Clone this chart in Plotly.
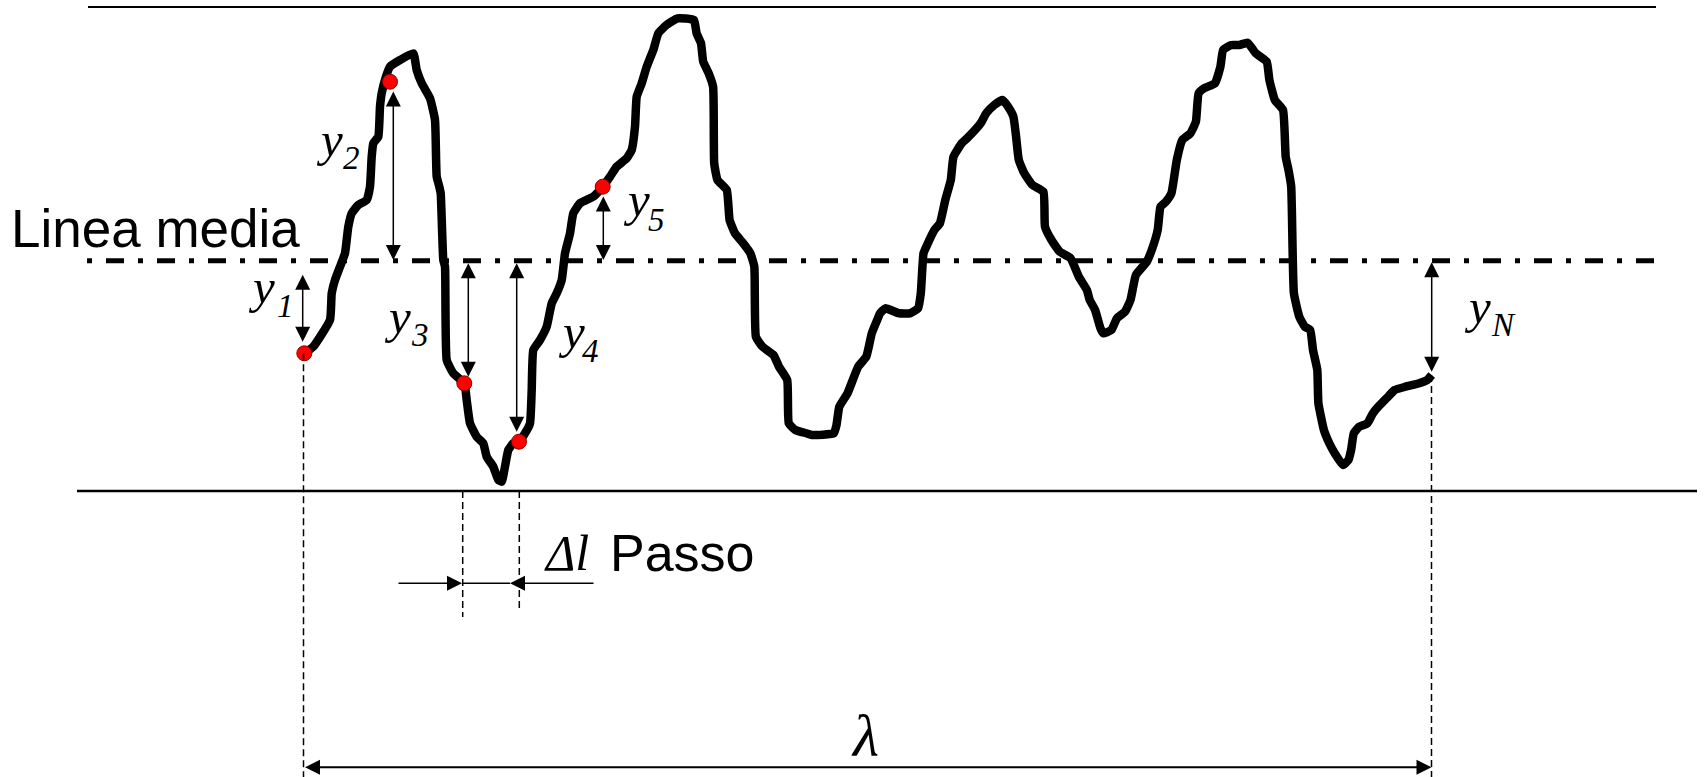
import plotly.graph_objects as go

W, H = 1704, 777

# Roughness profile (pixel coordinates)
profile_x = [304.3, 313.3, 330.0, 331.7, 335.0, 340.0, 345.0, 348.3, 351.7, 358.3, 366.7, 370.0,
             371.7, 373.3, 378.3, 380.0, 381.7, 386.0, 390.0, 400.0, 413.3, 416.7, 421.7, 430.0,
             435.0, 436.7, 439.3, 440.7, 443.3, 445.0, 446.7, 453.3, 464.3, 466.7, 470.0, 476.7,
             483.3, 486.7, 493.3, 498.3, 501.7, 505.0, 508.3, 513.3, 519.0, 525.0, 530.0, 531.7,
             533.3, 540.0, 546.7, 551.7, 556.7, 561.7, 565.0, 570.0, 573.3, 580.0, 593.3, 602.7,
             610.0, 616.7, 626.7, 631.7, 635.0, 636.7, 641.7, 646.7, 650.0, 653.3,
             658.3, 666.5, 677.5, 693.9, 696.6, 701.0, 703.2, 708.7, 713.1, 714.2, 717.5, 726.8,
             729.6, 735.0, 743.3, 750.4, 754.3, 755.9, 762.5, 773.5, 779.0, 787.2, 788.8, 795.4,
             806.4, 811.9, 833.8, 836.5, 839.3, 847.5,
             858.2, 866.3, 871.8, 877.2, 880.0, 885.4, 899.0, 909.9, 918.1, 920.8, 923.5, 926.3,
             934.4, 939.9, 945.3, 950.8, 953.5, 961.7, 967.1, 980.7, 986.2, 994.3, 1002.5, 1008.0,
             1013.4, 1016.1, 1018.8, 1024.3, 1032.5, 1043.4, 1045.0, 1051.5, 1059.7, 1070.6, 1078.8,
             1086.9, 1089.7, 1095.1, 1100.5, 1103.3, 1111.4, 1116.9, 1125.0, 1130.5, 1135.9, 1146.8,
             1152.3, 1157.7, 1160.5, 1165.9, 1171.4, 1176.8, 1182.3, 1190.4, 1195.9, 1198.6, 1204.1,
             1214.9, 1220.4, 1223.1, 1231.3, 1239.4, 1247.6, 1255.8, 1266.7, 1269.4, 1274.8, 1283.0,
             1285.7, 1288.5, 1291.2, 1293.9, 1299.3, 1304.8, 1310.2, 1313.0, 1317.3, 1318.4, 1323.9,
             1329.3, 1334.7, 1342.9, 1348.4, 1351.1, 1353.8, 1359.3, 1367.4, 1372.9, 1378.3, 1386.5,
             1394.7, 1405.6, 1419.2, 1427.3, 1431.7]
profile_y = [353.3, 346.7, 320.0, 293.3, 280.0, 266.7, 253.3, 226.7, 213.3, 205.0, 200.0, 186.7,
             156.7, 143.3, 136.7, 106.7, 93.3, 76.7, 66.7, 60.0, 53.3, 70.0, 83.3, 98.3,
             120.0, 176.7, 186.7, 193.3, 260.0, 266.7, 360.0, 373.3, 383.3, 400.0, 423.3, 436.7,
             443.3, 456.7, 466.7, 480.0, 481.7, 466.7, 450.0, 443.3, 441.7, 433.3, 423.3, 390.0,
             350.0, 340.0, 326.7, 303.3, 293.3, 280.0, 253.3, 233.3, 213.3, 203.3, 196.7, 186.7,
             176.7, 166.7, 158.3, 150.0, 126.7, 96.7, 83.3, 66.7, 58.3, 50.0,
             33.3, 25.0, 18.3, 20.0, 33.3, 43.3, 61.7, 73.3, 86.7, 163.3, 180.0, 190.0,
             220.0, 233.3, 243.3, 253.3, 266.7, 336.7, 346.7, 355.0, 366.7, 380.0, 423.3, 430.0,
             433.3, 435.0, 433.3, 425.0, 406.7, 393.3,
             366.7, 356.7, 333.3, 320.0, 313.3, 308.3, 313.3, 313.3, 308.3, 293.3, 253.3, 246.7,
             230.0, 223.3, 200.0, 180.0, 156.7, 143.3, 138.3, 123.3, 113.3, 105.0, 100.0, 106.7,
             116.7, 136.7, 160.0, 173.3, 185.0, 191.7, 226.7, 240.0, 251.7, 258.3, 276.7,
             290.0, 300.0, 310.0, 328.3, 333.3, 330.0, 318.3, 311.7, 300.0, 275.0, 261.7,
             248.3, 230.0, 206.7, 201.7, 193.3, 160.0, 140.0, 133.3, 121.7, 93.3, 88.3,
             83.3, 66.7, 50.0, 45.0, 45.0, 42.7, 53.3, 61.7, 80.0, 100.0, 110.0,
             156.7, 170.0, 186.7, 293.3, 316.7, 326.7, 330.0, 350.0, 370.0, 403.3, 430.0,
             443.3, 453.3, 465.0, 460.0, 450.0, 433.3, 426.7, 423.3, 413.3, 406.7, 398.3,
             390.0, 386.7, 383.3, 380.0, 375.0]

# Sample points y1..y5
sample_x = [304.3, 390.0, 464.3, 519.0, 602.7]
sample_y = [353.3, 81.7, 383.3, 441.7, 186.7]

# Reference levels
mean_y = 260.7
top_y = 7.0
bottom_y = 491.0

# Deviation arrows: x, upper tip, lower tip
dev_x = [302.7, 393.3, 468.3, 516.7, 603.3, 1431.7]
dev_top = [273.3, 90.0, 261.7, 261.7, 195.0, 260.7]
dev_bot = [341.7, 260.0, 376.7, 431.7, 260.0, 371.7]

# Labels: subscript text, "y" left x, "y" baseline, sub left x, sub baseline
lab_sub = ["1", "2", "3", "4", "5", "N"]
lab_yx = [247, 315, 383, 557, 622, 1463]
lab_yb = [304, 157, 334, 349, 217, 324]
lab_sx = [276, 342, 410, 581, 647, 1490]
lab_sb = [318, 170, 347, 363, 232, 337]

# Step and length
step_x = [462.7, 519.3]
lam_x = [303.5, 1431.5]
lam_y = 767.3
step_arrow_y = 583.3

fig = go.Figure()

# profile
fig.add_trace(go.Scatter(x=profile_x, y=profile_y, mode="lines",
                         line=dict(color="black", width=8.5, shape="spline", smoothing=0.4),
                         hoverinfo="skip"))
# sample dots
fig.add_trace(go.Scatter(x=sample_x, y=sample_y, mode="markers",
                         marker=dict(size=15, color="#ff0000", line=dict(color="#8b0000", width=1)),
                         hoverinfo="skip"))

shapes = []
# top and bottom solid lines
shapes.append(dict(type="line", x0=88, x1=1656, y0=top_y, y1=top_y, line=dict(color="black", width=2)))
shapes.append(dict(type="line", x0=77, x1=1697, y0=bottom_y, y1=bottom_y, line=dict(color="black", width=2.5)))
# mean line
shapes.append(dict(type="line", x0=87, x1=1657, y0=mean_y, y1=mean_y,
                   line=dict(color="black", width=5, dash="5px,14px,18px,14px")))
# dashed verticals
vd = dict(color="black", width=1.5, dash="7px,4px")
shapes.append(dict(type="line", x0=lam_x[0], x1=lam_x[0], y0=sample_y[0], y1=777, line=vd))
shapes.append(dict(type="line", x0=lam_x[1], x1=lam_x[1], y0=profile_y[-1], y1=777, line=vd))
shapes.append(dict(type="line", x0=step_x[0], x1=step_x[0], y0=bottom_y, y1=617, line=vd))
shapes.append(dict(type="line", x0=step_x[1], x1=step_x[1], y0=bottom_y, y1=612, line=vd))
# segment between step arrow heads
shapes.append(dict(type="line", x0=462, x1=510, y0=step_arrow_y, y1=step_arrow_y,
                   line=dict(color="black", width=1.5)))
fig.update_layout(shapes=shapes)

ann = []
# deviation arrows (double headed)
for xx, t, b in zip(dev_x, dev_top, dev_bot):
    ann.append(dict(x=xx, y=b, ax=xx, ay=t, xref="x", yref="y", axref="x", ayref="y",
                    text="", showarrow=True, arrowhead=2, startarrowhead=2, arrowside="end+start",
                    arrowwidth=1.5, arrowsize=2, startarrowsize=2, arrowcolor="black",
                    standoff=0, startstandoff=0))
# step arrows
ann.append(dict(x=462, y=step_arrow_y, ax=397, ay=step_arrow_y, xref="x", yref="y", axref="x", ayref="y",
                text="", showarrow=True, arrowhead=2, arrowwidth=1.5, arrowsize=2, arrowcolor="black"))
ann.append(dict(x=510, y=step_arrow_y, ax=595, ay=step_arrow_y, xref="x", yref="y", axref="x", ayref="y",
                text="", showarrow=True, arrowhead=2, arrowwidth=1.5, arrowsize=2, arrowcolor="black"))
# lambda arrow
ann.append(dict(x=lam_x[1], y=lam_y, ax=lam_x[0], ay=lam_y, xref="x", yref="y", axref="x", ayref="y",
                text="", showarrow=True, arrowhead=2, startarrowhead=2, arrowside="end+start",
                arrowwidth=2, arrowsize=1.5, startarrowsize=1.5, arrowcolor="black"))

SERIF = "Liberation Serif, Times New Roman, serif"
SANS = "Liberation Sans, Arial, sans-serif"


def text_at(txt, left, baseline, size, family, descent):
    return dict(x=left, y=baseline + descent * size, xref="x", yref="y", text=txt,
                showarrow=False, xanchor="left", yanchor="bottom", borderpad=0,
                font=dict(family=family, size=size, color="black"))


for s, yx, yb, sx, sb in zip(lab_sub, lab_yx, lab_yb, lab_sx, lab_sb):
    ann.append(text_at("<i>y</i>", yx, yb, 49, SERIF, 0.216))
    ann.append(text_at("<i>" + s + "</i>", sx, sb, 33, SERIF, 0.216))

ann.append(text_at("Linea media", 10, 248, 53, SANS, 0.212))
ann.append(text_at("Passo", 609, 572, 52, SANS, 0.212))
ann.append(text_at("<i>Δl</i>", 543, 571, 50, SERIF, 0.216))
ann.append(text_at("<i>λ</i>", 850, 757, 60, SERIF, 0.216))

fig.update_layout(annotations=ann)

fig.update_layout(
    width=W, height=H, margin=dict(l=0, r=0, t=0, b=0),
    paper_bgcolor="white", plot_bgcolor="white", showlegend=False,
    xaxis=dict(range=[0, W], visible=False, fixedrange=True),
    yaxis=dict(range=[H, 0], visible=False, fixedrange=True),
)

fig.write_html("out.html", config={"displayModeBar": False},
               post_script="document.body.style.margin='0';document.body.style.overflow='hidden';")
